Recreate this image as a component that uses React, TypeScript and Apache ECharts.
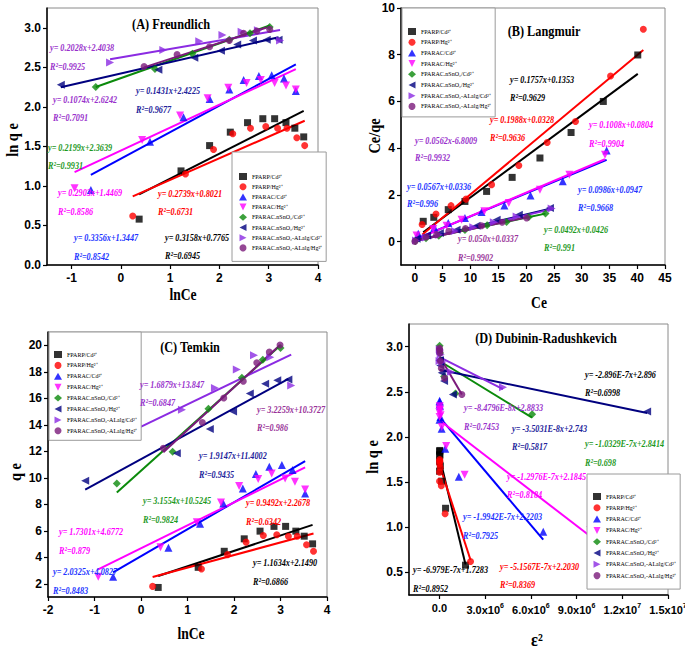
import React, { useEffect, useRef } from 'react';
import * as echarts from 'echarts';

// ---------- series identities ----------
const seriesNames = [
  'FPARP/Cd²⁺', 'FPARP/Hg²⁺', 'FPARAC/Cd²⁺', 'FPARAC/Hg²⁺',
  'FPARAC.nSnO₂/Cd²⁺', 'FPARAC.nSnO₂/Hg²⁺', 'FPARAC.nSnO₂-ALalg/Cd²⁺', 'FPARAC.nSnO₂-ALalg/Hg²⁺',
];

// ---------- (A) Freundlich : lnCe vs ln qe ----------
const freundlichX = [
  [0.37, 1.22, 1.80, 2.22, 2.57, 2.88, 3.12, 3.35, 3.53, 3.71],
  [0.24, 1.31, 1.88, 2.27, 2.63, 2.94, 3.18, 3.37, 3.57, 3.73],
  [-0.61, 0.59, 1.27, 1.80, 2.20, 2.49, 2.80, 3.06, 3.31, 3.55],
  [-0.94, 0.43, 1.20, 1.76, 2.18, 2.55, 2.84, 3.12, 3.35, 3.55],
  [-0.51, 0.69, 1.45, 2.20, 2.62, 3.02],
  [-1.22, 0.76, 1.49, 2.03, 2.36, 2.68, 2.96, 3.20],
  [-0.22, 0.86, 1.59, 2.06, 2.45, 2.78, 3.23],
  [0.47, 1.14, 1.80, 2.20, 2.49, 2.76, 3.02],
];
const freundlichY = [
  [0.58, 1.19, 1.51, 1.68, 1.80, 1.85, 1.85, 1.80, 1.73, 1.62],
  [0.62, 1.15, 1.46, 1.66, 1.73, 1.75, 1.73, 1.73, 1.61, 1.51],
  [0.95, 1.56, 1.87, 2.10, 2.22, 2.34, 2.39, 2.40, 2.36, 2.20],
  [0.97, 1.58, 1.89, 2.11, 2.24, 2.30, 2.34, 2.30, 2.27, 2.22],
  [2.25, 2.48, 2.67, 2.85, 2.93, 3.01],
  [2.28, 2.47, 2.62, 2.71, 2.79, 2.84, 2.85, 2.85],
  [2.56, 2.72, 2.83, 2.91, 2.95, 2.97, 2.84],
  [2.51, 2.66, 2.76, 2.84, 2.93, 2.96, 2.98],
];
const freundlichSlope = [0.3158, 0.2739, 0.3356, 0.2903, 0.2199, 0.1431, 0.1074, 0.2028];
const freundlichIntercept = [0.7765, 0.8021, 1.3447, 1.4469, 2.3639, 2.4225, 2.6242, 2.4038];
const freundlichEq = ['y= 0.2028x+2.4038', 'y= 0.1074x+2.6242', 'y= 0.1431x+2.4225', 'y= 0.2199x+2.3639',
  'y= 0.2903x+1.4469', 'y= 0.3356x+1.3447', 'y= 0.2739x+0.8021', 'y= 0.3158x+0.7765'];
const freundlichR2 = ['0.9925', '0.7091', '0.9677', '0.9931', '0.8586', '0.8542', '0.6731', '0.6945'];

// ---------- (B) Langmuir : Ce vs Ce/qe ----------
const langmuirX = [
  [1.5, 3.4, 6.0, 9.0, 12.9, 17.5, 22.5, 28.1, 33.9, 40.1],
  [1.3, 3.8, 6.5, 9.2, 13.8, 18.7, 23.8, 28.9, 35.2, 41.1],
  [0.6, 3.5, 6.0, 9.0, 12.0, 16.1, 20.8, 26.6, 34.5],
  [0.3, 3.3, 5.7, 8.4, 12.5, 16.9, 22.5, 27.8, 34.2],
  [0.1, 2.0, 4.3, 9.0, 13.0, 16.5, 20.5, 23.5],
  [0.3, 2.2, 4.5, 7.5, 11.1, 14.7, 18.7, 24.3],
  [0.2, 2.0, 4.3, 7.2, 10.5, 14.2, 18.3, 24.6],
  [0.0, 2.0, 3.9, 6.1, 9.1, 12.0, 15.7, 20.1],
];
const langmuirY = [
  [0.87, 1.04, 1.37, 1.72, 2.15, 2.75, 3.58, 4.67, 6.00, 7.99],
  [0.73, 1.18, 1.54, 1.82, 2.44, 3.26, 4.24, 5.14, 7.09, 9.09],
  [0.34, 0.61, 0.80, 1.01, 1.27, 1.55, 1.98, 2.58, 3.90],
  [0.26, 0.54, 0.68, 0.94, 1.30, 1.65, 2.22, 2.86, 3.72],
  [0.03, 0.14, 0.25, 0.50, 0.70, 0.84, 1.05, 1.20],
  [0.12, 0.26, 0.37, 0.51, 0.68, 0.94, 1.15, 1.44],
  [0.05, 0.18, 0.30, 0.45, 0.62, 0.83, 1.08, 1.42],
  [0.01, 0.20, 0.30, 0.44, 0.56, 0.68, 0.83, 1.01],
];
const langmuirSlope = [0.1757, 0.1988, 0.0986, 0.1008, 0.0492, 0.0567, 0.0562, 0.050];
const langmuirIntercept = [0.1353, 0.0328, 0.0947, 0.0804, 0.0426, 0.0336, 0.01, 0.0337];
const langmuirEq = ['y= 0.1757x+0.1353', 'y= 0.1988x+0.0328', 'y= 0.1008x+0.0804', 'y= 0.0562x-6.8009',
  'y= 0.0567x+0.0336', 'y= 0.0986x+0.0947', 'y= 0.0492x+0.0426', 'y= 0.050x+0.0337'];
const langmuirR2 = ['0.9629', '0.9636', '0.9904', '0.9932', '0.996', '0.9668', '0.991', '0.9902'];

// ---------- (C) Temkin : lnCe vs qe ----------
const temkinX = [
  [0.37, 1.23, 1.79, 2.22, 2.56, 2.86, 3.11, 3.33, 3.51, 3.69],
  [0.25, 1.30, 1.86, 2.26, 2.63, 2.92, 3.17, 3.36, 3.56, 3.71],
  [-0.60, 0.59, 1.27, 1.77, 2.19, 2.47, 2.76, 3.03, 3.26, 3.53],
  [-0.92, 0.42, 1.20, 1.72, 2.11, 2.52, 2.81, 3.10, 3.31, 3.53],
  [-0.52, 0.68, 1.45, 2.17, 2.62, 3.00],
  [-1.20, 0.77, 1.48, 1.98, 2.34, 2.67, 2.93, 3.17],
  [-0.22, 0.88, 1.59, 2.06, 2.43, 2.78, 3.23],
  [0.48, 1.32, 1.78, 2.20, 2.49, 2.76, 2.99],
];
const temkinY = [
  [1.72, 3.24, 4.45, 5.39, 5.97, 6.33, 6.33, 5.97, 5.59, 5.01],
  [1.80, 3.12, 4.20, 5.14, 5.64, 5.70, 5.59, 5.59, 4.94, 4.45],
  [2.53, 4.71, 6.53, 8.05, 9.19, 10.28, 10.83, 10.96, 10.58, 8.81],
  [2.53, 4.76, 6.65, 8.13, 9.37, 9.90, 10.33, 9.95, 9.69, 9.11],
  [9.57, 11.97, 15.20, 17.54, 18.90, 19.80],
  [9.77, 11.85, 13.67, 15.00, 16.35, 17.09, 17.36, 17.41],
  [13.30, 15.14, 16.78, 18.17, 19.24, 19.10, 16.96],
  [12.23, 14.17, 16.02, 17.29, 18.68, 19.49, 20.02],
];
const temkinSlope = [1.1634, 0.9492, 2.0325, 1.7301, 3.1554, 1.9147, 1.6879, 3.2259];
const temkinIntercept = [2.1490, 2.2678, 4.0827, 4.6772, 10.5245, 11.4002, 13.847, 10.3727];
const temkinEq = ['y= 1.6879x+13.847', 'y= 3.2259x+10.3727', 'y= 1.9147x+11.4002', 'y= 3.1554x+10.5245',
  'y= 0.9492x+2.2678', 'y= 1.7301x+4.6772', 'y= 2.0325x+4.0827', 'y= 1.1634x+2.1490'];
const temkinR2 = ['0.6847', '0.986', '0.9435', '0.9824', '0.6342', '0.879', '0.8483', '0.6866'];

// ---------- (D) Dubinin-Radushkevich : ε² vs ln qe ----------
const drX = [
  [1.71e6, 0.40e6, 0.14e6, 0.06e6, 0.03e6, 0.02e6, 0.012e6, 0.008e6, 0.006e6, 0.004e6],
  [2.04e6, 0.37e6, 0.12e6, 0.05e6, 0.03e6, 0.015e6, 0.01e6, 0.008e6, 0.005e6, 0.004e6],
  [6.81e6, 1.27e6, 0.38e6, 0.14e6, 0.065e6, 0.034e6, 0.018e6, 0.01e6, 0.006e6, 0.0035e6],
  [9.90e6, 1.65e6, 0.44e6, 0.15e6, 0.07e6, 0.03e6, 0.017e6, 0.01e6, 0.006e6, 0.004e6],
  [6.08e6, 1.05e6, 0.30e6, 0.065e6, 0.03e6, 0.01e6],
  [13.63e6, 0.88e6, 0.30e6, 0.15e6, 0.05e6, 0.025e6, 0.013e6, 0.008e6],
  [4.17e6, 0.75e6, 0.20e6, 0.08e6, 0.04e6, 0.02e6, 0.006e6],
  [1.47e6, 0.33e6, 0.12e6, 0.06e6, 0.03e6, 0.015e6, 0.008e6],
];
const drY = [
  [0.58, 1.21, 1.51, 1.68, 1.80, 1.85, 1.84, 1.80, 1.73, 1.62],
  [0.62, 1.15, 1.46, 1.66, 1.73, 1.75, 1.73, 1.70, 1.61, 1.51],
  [0.95, 1.56, 1.87, 2.09, 2.22, 2.34, 2.39, 2.40, 2.36, 2.19],
  [0.97, 1.58, 1.90, 2.11, 2.24, 2.30, 2.34, 2.30, 2.27, 2.22],
  [2.25, 2.48, 2.67, 2.85, 2.93, 3.01],
  [2.28, 2.47, 2.62, 2.71, 2.79, 2.84, 2.85, 2.85],
  [2.55, 2.72, 2.83, 2.91, 2.95, 2.97, 2.84],
  [2.47, 2.65, 2.76, 2.84, 2.93, 2.96, 2.98],
];
const drSlope = [-6.979e-7, -5.1567e-7, -1.9942e-7, -1.2976e-7, -1.0329e-7, -3.5031e-8, -8.4796e-8, -2.896e-7];
const drIntercept = [1.78, 1.69, 2.2203, 2.1845, 2.8414, 2.743, 2.8833, 2.896];
const drEq = ['y= -2.896E-7x+2.896', 'y= -8.4796E-8x+2.8833', 'y= -3.5031E-8x+2.743', 'y= -1.0329E-7x+2.8414',
  'y= -1.2976E-7x+2.1845', 'y= -1.9942E-7x+2.2203', 'y= -6.979E-7x+1.7283', 'y= -5.1567E-7x+2.2030'];
const drR2 = ['0.6998', '0.7453', '0.5817', '0.698', '0.8184', '0.7925', '0.8952', '0.8369'];

// ---------- tick labels ----------
const ticksAx = [-1, 0, 1, 2, 3, 4];
const ticksAy = [0, 0.5, 1, 1.5, 2, 2.5, 3];
const ticksBx = [0, 5, 10, 15, 20, 25, 30, 35, 40, 45];
const ticksBy = [0, 2, 4, 6, 8, 10];
const ticksCx = [-2, -1, 0, 1, 2, 3, 4];
const ticksCy = [2, 4, 6, 8, 10, 12, 14, 16, 18, 20];
const ticksDx = [0, 3e6, 6e6, 9e6, 1.2e7, 1.5e7];
const ticksDy = [0.5, 1, 1.5, 2, 2.5, 3];

// ---------- styles ----------
const markColors = ['#000000', '#ff0000', '#0000ff', '#ff00ff', '#0b8a0b', '#00007f', '#8b2be2', '#7b1a7b'];
const markSymbols = ['rect', 'circle', 'triangle', 'triangle', 'diamond', 'triangle', 'triangle', 'circle'];
const markRotate = [0, 0, 0, 180, 0, 90, -90, 0];
const markSize = [7, 7, 8, 8, 8, 8, 8, 7];
const legendIcons = ['rect', 'circle', 'triangle', 'path://M0,0L10,0L5,10Z', 'diamond',
  'path://M10,0L0,5L10,10Z', 'path://M0,0L10,5L0,10Z', 'circle'];

const C_VIOLET = '#9932cc', C_DPURPLE = '#993399', C_NAVY = '#22229a', C_BLUE = '#2233ff',
  C_GREEN = '#1e991e', C_MAG = '#ff00ff', C_RED = '#ff0000', C_BLK = '#000000';
const eqColorsA = [C_VIOLET, C_VIOLET, C_NAVY, C_GREEN, C_MAG, C_BLUE, C_RED, C_BLK];
const eqColorsB = [C_BLK, C_RED, C_MAG, C_VIOLET, C_BLUE, C_BLUE, C_GREEN, C_DPURPLE];
const eqColorsC = [C_VIOLET, C_DPURPLE, C_NAVY, C_GREEN, C_RED, C_MAG, C_BLUE, C_BLK];
const eqColorsD = [C_BLK, C_VIOLET, C_NAVY, C_GREEN, C_MAG, C_BLUE, C_BLK, C_RED];

// label anchor layout: [x, yEq, yR2]
const eqPosA = [[50, 48, 67], [53, 100, 118], [136, 91, 110], [48, 148, 166], [58, 193, 212], [74, 238, 257], [158, 194, 212], [165, 238, 256]];
const eqPosB = [[510, 80, 98], [490, 120, 138], [589, 125, 144], [415, 141, 158], [407, 187, 204], [578, 190, 208], [544, 230, 248], [458, 239, 258]];
const eqPosC = [[140, 385, 403], [257, 410, 428], [199, 456, 475], [143, 501, 520], [246, 503, 522], [59, 532, 551], [53, 572, 591], [253, 563, 582]];
const eqPosD = [[585, 375, 393], [464, 408, 427], [512, 429, 447], [585, 444, 463], [507, 477, 495], [463, 517, 536], [413, 570, 589], [500, 567, 585]];

const TICK_FONT = "'Liberation Sans Narrow', 'Arial Narrow', 'Liberation Sans', Arial, sans-serif";
const SERIF = "'Liberation Serif', 'Times New Roman', serif";

const grids = [
  { left: 47, top: 8, width: 271, height: 257 },
  { left: 401, top: 8, width: 264, height: 257 },
  { left: 48, top: 332, width: 279, height: 265 },
  { left: 409, top: 324, width: 259, height: 271 },
];

function fmtSci(v: number) {
  if (v === 0) return '{m|0.0}';
  const e = Math.floor(Math.log10(v) + 1e-9);
  const m = v / Math.pow(10, e);
  return `{m|${m.toFixed(1)}x10}{e|${e}}`;
}

function makeAxis(kind: 'x' | 'y', idx: number, min: number, max: number, ticks: number[], fmt: (v: number) => string, rich = false) {
  const label: any = {
    customValues: ticks,
    formatter: fmt,
    margin: kind === 'x' ? 7 : 6,
    fontFamily: TICK_FONT,
    fontWeight: 'bold',
    fontSize: 12,
    color: '#000',
    showMinLabel: true,
    showMaxLabel: true,
  };
  if (rich) {
    label.rich = {
      m: { fontFamily: TICK_FONT, fontWeight: 'bold', fontSize: 11, color: '#000' },
      e: { fontFamily: TICK_FONT, fontWeight: 'bold', fontSize: 7, color: '#000', padding: [0, 0, 8, 0] },
    };
  }
  return {
    type: 'value',
    gridIndex: idx,
    min,
    max,
    axisLine: { show: true, onZero: false, lineStyle: { color: '#000', width: 1.5 } },
    axisTick: { show: true, customValues: ticks, length: 4, inside: false, lineStyle: { color: '#000', width: 1.2 } },
    axisLabel: label,
    splitLine: { show: false },
    minorTick: { show: false },
  };
}

function panelSeries(p: number, xs: number[][], ys: number[][], slopes: number[], intercepts: number[]) {
  const out: any[] = [];
  for (let i = 0; i < 8; i++) {
    const xmin = Math.min(...xs[i]);
    const xmax = Math.max(...xs[i]);
    out.push({
      type: 'line',
      name: `fit-${p}-${i}`,
      xAxisIndex: p,
      yAxisIndex: p,
      data: [[xmin, slopes[i] * xmin + intercepts[i]], [xmax, slopes[i] * xmax + intercepts[i]]],
      symbol: 'none',
      showSymbol: false,
      silent: true,
      lineStyle: { color: markColors[i], width: 2 },
      z: 2,
    });
    out.push({
      type: 'scatter',
      name: seriesNames[i],
      xAxisIndex: p,
      yAxisIndex: p,
      data: xs[i].map((x, j) => [x, ys[i][j]]),
      symbol: markSymbols[i],
      symbolRotate: markRotate[i],
      symbolSize: markSize[i],
      itemStyle: { color: markColors[i] },
      z: 3,
    });
  }
  return out;
}

function makeLegend(left: number, top: number, padding: number[], gap: number) {
  return {
    data: seriesNames.map((n, i) => ({ name: n, icon: legendIcons[i], itemStyle: { color: markColors[i] } })),
    orient: 'vertical',
    left,
    top,
    padding,
    itemGap: gap,
    itemWidth: 8,
    itemHeight: 7,
    symbolRotate: 0,
    selectedMode: false,
    borderColor: '#9a9a9a',
    borderWidth: 1,
    backgroundColor: '#ffffff',
    textStyle: { fontFamily: SERIF, fontSize: 6, color: '#000' },
    z: 10,
  };
}

function txt(text: string, x: number, y: number, o: any = {}) {
  return {
    type: 'text',
    x,
    y,
    scaleX: o.scaleX ?? 1,
    rotation: o.rotation ?? 0,
    z: 20,
    silent: true,
    style: {
      text,
      fill: o.color ?? '#000',
      fontFamily: SERIF,
      fontSize: o.size ?? 10,
      fontWeight: 'bold',
      fontStyle: o.italic ? 'italic' : 'normal',
      align: o.align ?? 'left',
      verticalAlign: 'middle',
    },
  };
}

function eqTexts(eqs: string[], r2s: string[], pos: number[][], colors: string[]) {
  const out: any[] = [];
  eqs.forEach((e, i) => {
    const [x, y1, y2] = pos[i];
    out.push(txt(e, x, y1, { italic: true, color: colors[i], scaleX: 0.82 }));
    out.push(txt('R²=' + r2s[i], x, y2, { italic: true, color: colors[i], scaleX: 0.82 }));
  });
  return out;
}

export default function App() {
  const ref = useRef<HTMLDivElement>(null);
  useEffect(() => {
    if (!ref.current) return;
    const chart = echarts.init(ref.current, null, { renderer: 'svg' });
    const f1 = (v: number) => v.toFixed(1);
    const f0 = (v: number) => String(v);
    const option: any = {
      animation: false,
      backgroundColor: '#ffffff',
      grid: grids.map((g) => ({ ...g, show: true, borderColor: '#8a8a8a', borderWidth: 1, backgroundColor: 'transparent', containLabel: false, outerBoundsMode: 'none' })),
      xAxis: [
        makeAxis('x', 0, -1.5, 4, ticksAx, f0),
        makeAxis('x', 1, -2.5, 45, ticksBx, f0),
        makeAxis('x', 2, -2, 4, ticksCx, f0),
        makeAxis('x', 3, -2e6, 1.5e7, ticksDx, fmtSci, true),
      ],
      yAxis: [
        makeAxis('y', 0, 0, 3.25, ticksAy, f1),
        makeAxis('y', 1, -1, 10, ticksBy, f0),
        makeAxis('y', 2, 1, 21, ticksCy, f0),
        makeAxis('y', 3, 0.25, 3.25, ticksDy, f1),
      ],
      legend: [
        makeLegend(232, 152, [21, 4, 10, 7], 3.2),
        makeLegend(402, 8, [20, 4, 7, 6], 3.7),
        makeLegend(49, 332, [19, 4, 6, 5], 3.9),
        makeLegend(587, 474, [19, 4, 10, 6], 4.3),
      ],
      series: [
        ...panelSeries(0, freundlichX, freundlichY, freundlichSlope, freundlichIntercept),
        ...panelSeries(1, langmuirX, langmuirY, langmuirSlope, langmuirIntercept),
        ...panelSeries(2, temkinX, temkinY, temkinSlope, temkinIntercept),
        ...panelSeries(3, drX, drY, drSlope, drIntercept),
      ],
      graphic: [
        txt('(A) Freundlich', 171, 24, { size: 15, align: 'center', scaleX: 0.82 }),
        txt('(B) Langmuir', 544, 31, { size: 15, align: 'center', scaleX: 0.82 }),
        txt('(C) Temkin', 190, 347, { size: 15, align: 'center', scaleX: 0.82 }),
        txt('(D) Dubinin-Radushkevich', 546, 338, { size: 15, align: 'center', scaleX: 0.82 }),
        txt('lnCe', 183, 295, { size: 16, align: 'center', scaleX: 0.85 }),
        txt('Ce', 539, 303, { size: 16, align: 'center', scaleX: 0.85 }),
        txt('lnCe', 191, 634, { size: 16, align: 'center', scaleX: 0.85 }),
        txt('ε²', 537, 640, { size: 18, align: 'center', scaleX: 0.9 }),
        txt('ln q e', 12, 140, { size: 16, align: 'center', rotation: Math.PI / 2, scaleX: 0.9 }),
        txt('Ce/qe', 374, 136, { size: 16, align: 'center', rotation: Math.PI / 2, scaleX: 0.9 }),
        txt('q e', 15, 472, { size: 16, align: 'center', rotation: Math.PI / 2, scaleX: 0.9 }),
        txt('ln q e', 372, 457, { size: 16, align: 'center', rotation: Math.PI / 2, scaleX: 0.9 }),
        ...eqTexts(freundlichEq, freundlichR2, eqPosA, eqColorsA),
        ...eqTexts(langmuirEq, langmuirR2, eqPosB, eqColorsB),
        ...eqTexts(temkinEq, temkinR2, eqPosC, eqColorsC),
        ...eqTexts(drEq, drR2, eqPosD, eqColorsD),
      ],
    };
    chart.setOption(option);
    return () => chart.dispose();
  }, []);
  return <div ref={ref} style={{ position: 'absolute', left: 0, top: 0, width: 685, height: 660 }} />;
}
